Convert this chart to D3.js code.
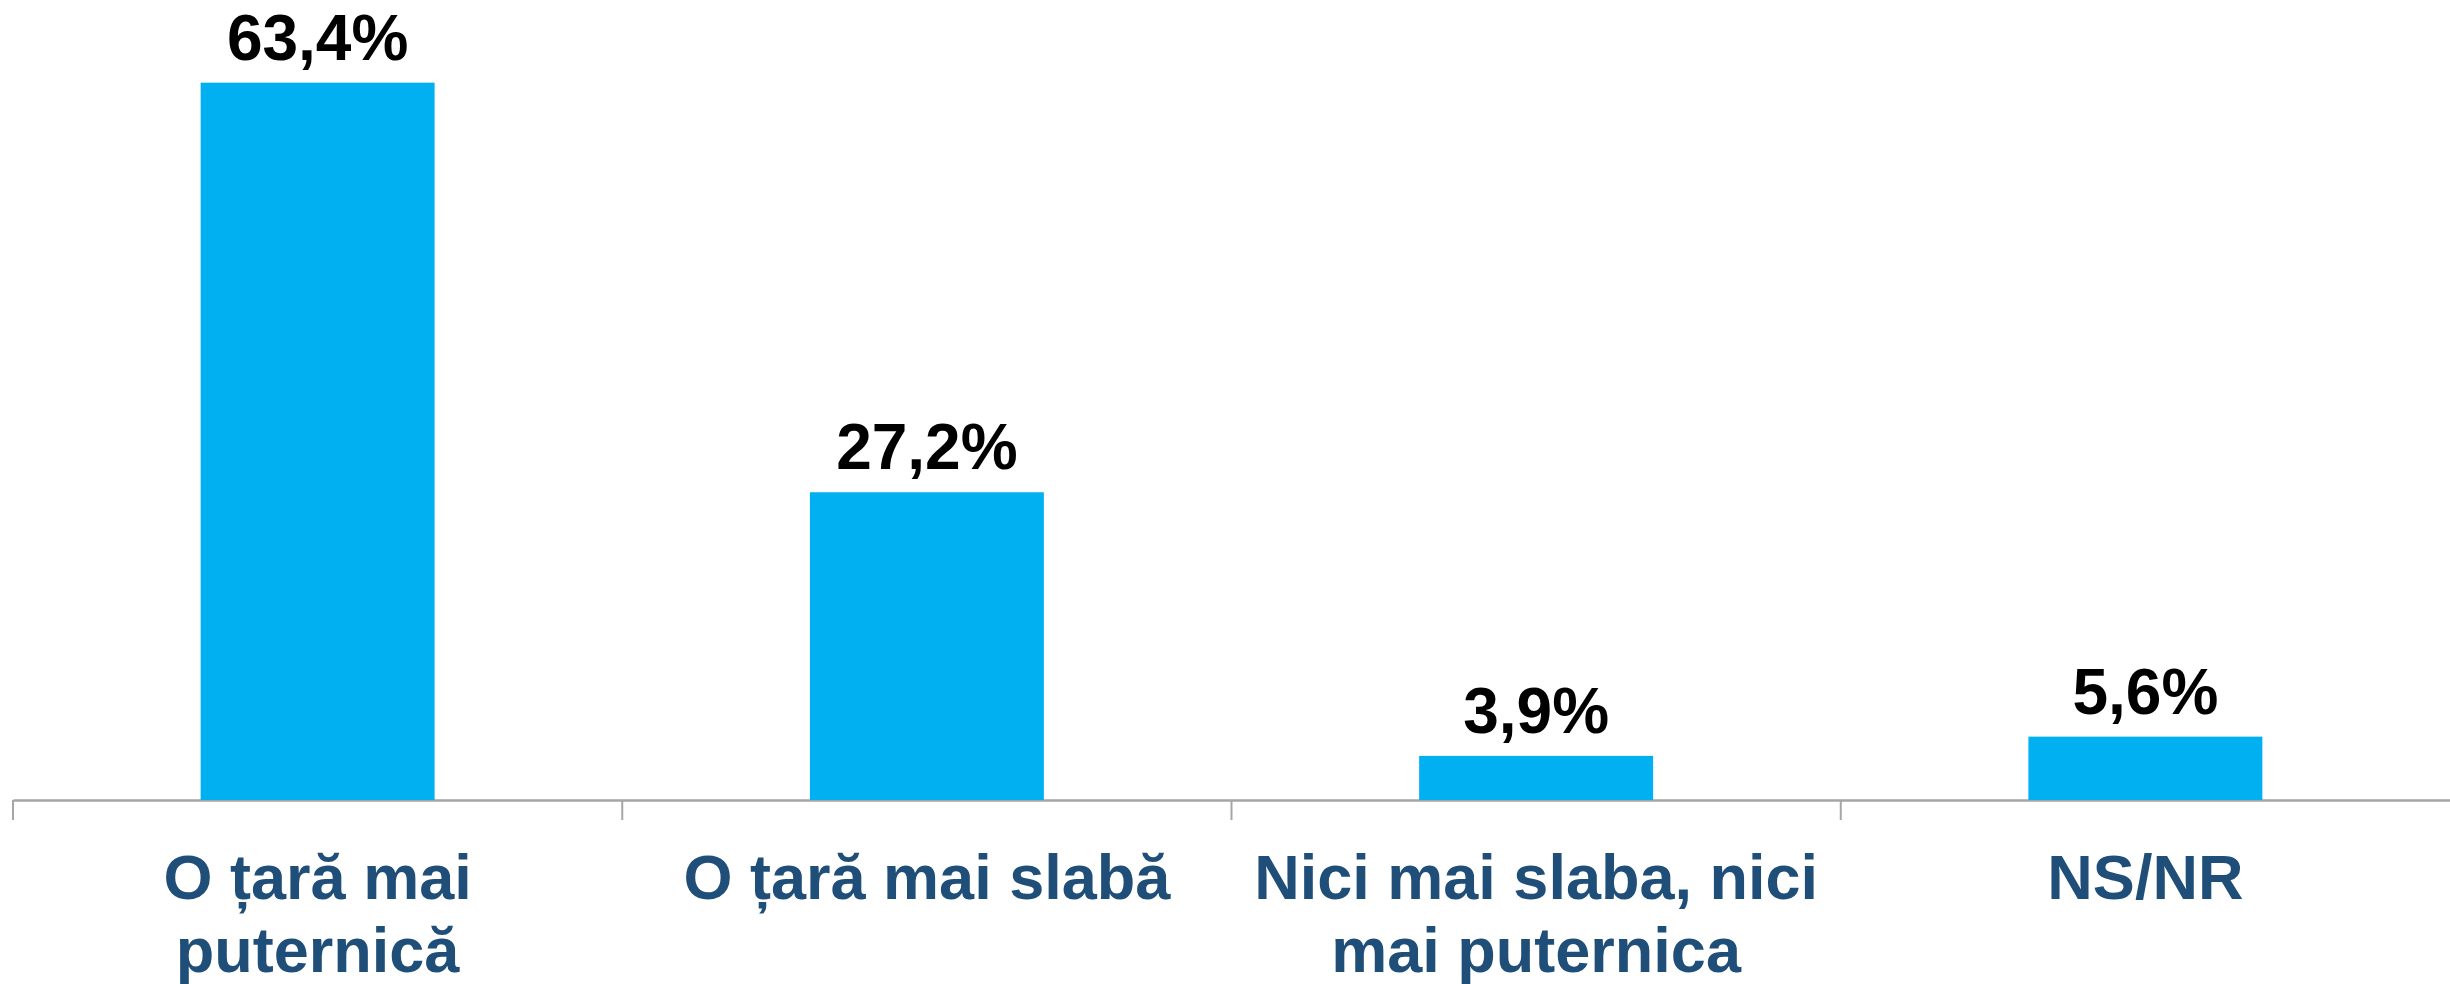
<!DOCTYPE html>
<html>
<head>
<meta charset="utf-8">
<script src="https://cdn.jsdelivr.net/npm/d3@7"></script>
<style>
  body { margin: 0; background: #fff; }
  svg { display: block; font-family: "Liberation Sans", Arial, sans-serif; }
</style>
</head>
<body>
<div id="chart"></div>
<script>
// data
const categories = ["O țară mai puternică", "O țară mai slabă", "Nici mai slaba, nici mai puternica", "NS/NR"];
const categoryLines = [["O țară mai", "puternică"], ["O țară mai slabă"], ["Nici mai slaba, nici", "mai puternica"], ["NS/NR"]];
const values = [63.4, 27.2, 3.9, 5.6];
const valueLabels = ["63,4%", "27,2%", "3,9%", "5,6%"];

let width = 2450,
  height = 984;

let svg = d3.select("#chart")
  .append("svg")
  .attr("width", width)
  .attr("height", height);

let x = d3.scaleBand()
  .domain(categories)
  .range([13, 2450])
  .padding(0);

let y = d3.scaleLinear()
  .domain([0, 70])
  .range([800, 8]);

let barW = x.bandwidth() * 0.384;

// axis line
let axis = svg.append("g")
  .attr("transform", "translate(0,800)")
  .call(d3.axisBottom(x).tickSize(0).tickFormat(""));
axis.select(".domain").attr("stroke", "#a6a6a6").attr("stroke-width", 2.5);

// boundary ticks
svg.append("g")
  .selectAll("line")
  .data(categories)
  .join("line")
  .attr("x1", d => x(d))
  .attr("x2", d => x(d))
  .attr("y1", 800)
  .attr("y2", 820)
  .attr("stroke", "#a6a6a6")
  .attr("stroke-width", 2);

// bars
svg.append("g")
  .selectAll("rect")
  .data(categories)
  .join("rect")
  .attr("x", d => x(d) + (x.bandwidth() - barW) / 2)
  .attr("width", barW)
  .attr("y", (d, i) => y(values[i]))
  .attr("height", (d, i) => y(0) - y(values[i]))
  .attr("fill", "#00B0F0");

// value labels
svg.append("g")
  .selectAll("text")
  .data(categories)
  .join("text")
  .attr("x", d => x(d) + x.bandwidth() / 2)
  .attr("y", (d, i) => y(values[i]) - 23)
  .attr("text-anchor", "middle")
  .attr("font-size", 64)
  .attr("font-weight", "bold")
  .attr("fill", "#000")
  .text((d, i) => valueLabels[i]);

// category labels
let cat = svg.append("g")
  .selectAll("text")
  .data(categories)
  .join("text")
  .attr("x", d => x(d) + x.bandwidth() / 2)
  .attr("y", 899)
  .attr("text-anchor", "middle")
  .attr("font-size", 63)
  .attr("font-weight", "bold")
  .attr("fill", "#1F4E79");

cat.each(function (d, i) {
  let t = d3.select(this);
  categoryLines[i].forEach((line, j) => {
    t.append("tspan")
      .attr("x", x(d) + x.bandwidth() / 2)
      .attr("dy", j === 0 ? 0 : 73)
      .text(line);
  });
});
</script>
</body>
</html>
